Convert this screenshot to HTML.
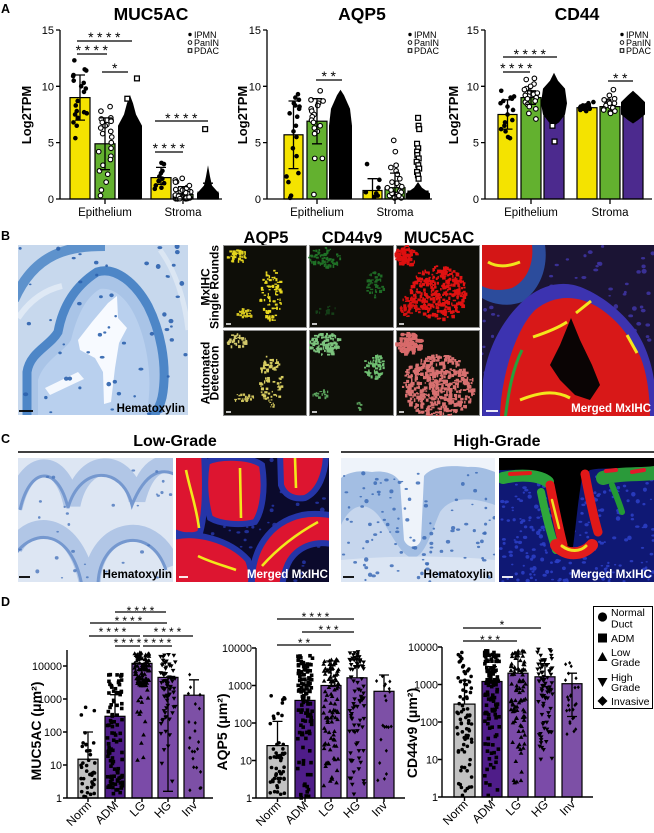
<!DOCTYPE html>
<html><head><meta charset="utf-8">
<style>
html,body{margin:0;padding:0;background:#fff;width:654px;height:833px;overflow:hidden}
svg{display:block}
text{font-family:"Liberation Sans",Arial,sans-serif}
</style></head><body>
<svg id="s" xmlns="http://www.w3.org/2000/svg" width="654" height="833" viewBox="0 0 654 833">
<defs>
 <clipPath id="k1"><rect x="18" y="245" width="170" height="170"/></clipPath>
 <clipPath id="k2"><rect x="482" y="245" width="172" height="171"/></clipPath>
 <clipPath id="k3"><rect x="18" y="458" width="155" height="124"/></clipPath>
 <clipPath id="k4"><rect x="176" y="458" width="153" height="124"/></clipPath>
 <clipPath id="k5"><rect x="341" y="458" width="154" height="124"/></clipPath>
 <clipPath id="k6"><rect x="499" y="458" width="155" height="124"/></clipPath>
 <clipPath id="kf"><rect x="223" y="245" width="257" height="171"/></clipPath>
</defs>
<rect width="654" height="833" fill="#fff"/>

<!-- panel letters -->
<g font-weight="bold" font-size="12.5">
<text x="1" y="13">A</text><text x="1" y="240">B</text><text x="1" y="443">C</text><text x="1" y="606">D</text>
</g>

<!-- ============ PANEL A ============ -->
<g font-weight="bold" font-size="17.5" text-anchor="middle">
<text x="151" y="20">MUC5AC</text><text x="362" y="20">AQP5</text><text x="577" y="20">CD44</text>
</g>
<g font-weight="bold" font-size="13" text-anchor="middle">
<text transform="translate(31,115) rotate(-90)">Log2TPM</text>
<text transform="translate(247,115) rotate(-90)">Log2TPM</text>
<text transform="translate(458,115) rotate(-90)">Log2TPM</text>
</g>
<g font-size="11" text-anchor="end">
<text x="54" y="34">15</text><text x="54" y="90.3">10</text><text x="54" y="146.6">5</text><text x="54" y="203">0</text>
<text x="261" y="34">15</text><text x="261" y="90.3">10</text><text x="261" y="146.6">5</text><text x="261" y="203">0</text>
<text x="479" y="34">15</text><text x="479" y="90.3">10</text><text x="479" y="146.6">5</text><text x="479" y="203">0</text>
</g>
<g font-size="11.5" text-anchor="middle">
<text x="105" y="216">Epithelium</text><text x="183" y="216">Stroma</text>
<text x="317" y="216">Epithelium</text><text x="395" y="216">Stroma</text>
<text x="531" y="216">Epithelium</text><text x="610" y="216">Stroma</text>
</g>
<!-- legends A -->
<g font-size="9">
<circle cx="190" cy="34.5" r="1.7"/><text x="194" y="37.8">IPMN</text>
<circle cx="190" cy="42.5" r="1.8" fill="#fff" stroke="#000" stroke-width="0.9"/><text x="194" y="45.8">PanIN</text>
<rect x="188.2" y="48.7" width="3.6" height="3.6" fill="#fff" stroke="#000" stroke-width="1"/><text x="194" y="53.8">PDAC</text>
<circle cx="410" cy="34.5" r="1.7"/><text x="414" y="37.8">IPMN</text>
<circle cx="410" cy="42.5" r="1.8" fill="#fff" stroke="#000" stroke-width="0.9"/><text x="414" y="45.8">PanIN</text>
<rect x="408.2" y="48.7" width="3.6" height="3.6" fill="#fff" stroke="#000" stroke-width="1"/><text x="414" y="53.8">PDAC</text>
<circle cx="622" cy="34.5" r="1.7"/><text x="626" y="37.8">IPMN</text>
<circle cx="622" cy="42.5" r="1.8" fill="#fff" stroke="#000" stroke-width="0.9"/><text x="626" y="45.8">PanIN</text>
<rect x="620.2" y="48.7" width="3.6" height="3.6" fill="#fff" stroke="#000" stroke-width="1"/><text x="626" y="53.8">PDAC</text>
</g>
<!-- bars A -->
<g stroke="#000" stroke-width="1.2">
<rect x="70" y="97.6" width="20" height="101.4" fill="#f4e300"/>
<rect x="95" y="143.8" width="20" height="55.2" fill="#63b12f"/>
<rect x="120" y="159.6" width="20" height="39.4" fill="#4c2a8e"/>
<rect x="151" y="177.6" width="20" height="21.4" fill="#f4e300"/>
<rect x="173" y="194.5" width="20" height="4.5" fill="#63b12f"/>
<rect x="198" y="192.2" width="20" height="6.8" fill="#4c2a8e"/>

<rect x="284" y="134.8" width="19" height="64.2" fill="#f4e300"/>
<rect x="307" y="121.2" width="20" height="77.8" fill="#63b12f"/>
<rect x="331" y="141.5" width="19" height="57.5" fill="#4c2a8e"/>
<rect x="363" y="190.5" width="19" height="8.5" fill="#f4e300"/>
<rect x="385" y="187.7" width="20" height="11.3" fill="#63b12f"/>
<rect x="408" y="191.1" width="20" height="7.9" fill="#4c2a8e"/>

<rect x="498" y="114.5" width="19" height="84.5" fill="#f4e300"/>
<rect x="521" y="97.6" width="20" height="101.4" fill="#63b12f"/>
<rect x="544" y="97.6" width="20" height="101.4" fill="#4c2a8e"/>
<rect x="577" y="107.7" width="20" height="91.3" fill="#f4e300"/>
<rect x="600" y="106.6" width="20" height="92.4" fill="#63b12f"/>
<rect x="623" y="108.8" width="20" height="90.2" fill="#4c2a8e"/>
</g>
<!-- black dense PDAC masses -->
<g fill="#000">
<polygon points="130,95.3 133,103.2 136,114.5 142,125.7 142,199 118,199 118,125.7 124,114.5 127,103.2"/>
<polygon points="208,165.2 210,176.5 212,185.5 219,193.4 219,199 197,199 197,193.4 204,185.5 206,176.5"/>
<polygon points="340.5,89.7 344,95.3 350,108.8 352,125.7 352,199 329,199 329,125.7 331,108.8 337,95.3"/>
<polygon points="418,182 422,187.7 430,193.4 430,199 406,199 406,193.4 414,187.7"/>
<polygon points="554,72.8 558,80.7 565,88.6 567,103.2 565,114.5 559,122.4 554,125.7 549,122.4 543,114.5 541,103.2 543,88.6 550,80.7"/>
<polygon points="633,90.8 638,95.3 645,102.1 645,114.5 638,120.1 633,123.5 628,120.1 621,114.5 621,102.1 628,95.3"/>
</g>
<g id="dA"></g>
<!-- error bars A -->
<g stroke="#000" stroke-width="1.3" fill="none">
<path d="M80,120.1V75M75,75H85M75,120.1H85"/>
<path d="M105,169.7V117.9M100,117.9H110M100,169.7H110"/>
<path d="M161,184.3V167.4M156,167.4H166M156,184.3H166"/>
<path d="M183,199V186.6M178,186.6H188"/>
<path d="M208,199V183.2M203,183.2H213"/>
<path d="M293.5,168.6V101M288.5,101H298.5M288.5,168.6H298.5"/>
<path d="M317,143.8V98.7M312,98.7H322M312,143.8H322"/>
<path d="M372.5,199V178.7M367.5,178.7H377.5"/>
<path d="M395,199V173.1M390,173.1H400"/>
<path d="M507.5,129.1V99.8M502.5,99.8H512.5M502.5,129.1H512.5"/>
<path d="M531,104.3V90.8M526,90.8H536M526,104.3H536"/>
</g>
<!-- axes A -->
<g stroke="#000" stroke-width="1.3" fill="none">
<path d="M60,30V199H222M56,30H60M56,86.3H60M56,142.6H60M56,199H60M105,199V204M183,199V204"/>
<path d="M267,30V199H432M263,30H267M263,86.3H267M263,142.6H267M263,199H267M317,199V204M395,199V204"/>
<path d="M485,30V199H652M481,30H485M481,86.3H485M481,142.6H485M481,199H485M531,199V204M610,199V204"/>
<!-- significance lines -->
<path d="M77,41H132M77,54H107M102,72H128M155,121H208M155,152H183"/>
<path d="M316,80H342"/>
<path d="M503,57H557M503,72H530M608,81H633"/>
</g>
<g font-size="14" text-anchor="middle" letter-spacing="3.5">
<text x="106" y="42">****</text><text x="93.5" y="55">****</text><text x="116.5" y="73">*</text>
<text x="183" y="123">****</text><text x="170.5" y="153">****</text>
<text x="330.5" y="81">**</text>
<text x="531.5" y="59">****</text><text x="518" y="73">****</text><text x="622" y="83">**</text>
</g>

<!-- ============ PANEL B ============ -->
<g clip-path="url(#k1)">
<rect x="18" y="245" width="170" height="170" fill="#c7d8ed"/>
<path d="M14,300 C35,252 70,246 105,246" stroke="#5e92cc" stroke-width="10" fill="none"/>
<path d="M18,318 C30,300 45,290 62,286" stroke="#dfe9f5" stroke-width="6" fill="none"/>
<path d="M160,250 C175,270 185,300 188,330" stroke="#dbe6f3" stroke-width="5" fill="none"/>
<path d="M27,420 L27,372 C30,352 50,346 58,332 C62,310 72,288 97,272 C116,266 136,284 148,306 C160,330 167,362 163,392 C161,408 152,420 146,420 Z" fill="#a9c4e7" stroke="#4d86c7" stroke-width="9"/>
<path d="M38,420 L38,380 C44,360 64,352 71,340 C77,316 85,298 100,289 C115,287 128,300 136,318 C146,340 151,370 149,395 L147,420 Z" fill="#b9d0ee"/>
<path d="M78,340 L92,322 L108,303 L117,296 L118,318 L127,328 L119,343 L115,368 L111,402 L104,404 L103,372 L95,358 L80,350 Z" fill="#f7faff"/>
<path d="M45,388 L78,372 L84,379 L50,395 Z" fill="#f4f8fe"/>
<g id="nBh"></g>
</g>
<text x="185" y="412" font-size="11.5" font-weight="bold" text-anchor="end">Hematoxylin</text>
<path d="M19,411H33" stroke="#000" stroke-width="1.8"/>

<g font-weight="bold" font-size="16.5" text-anchor="middle">
<text x="266" y="243">AQP5</text><text x="352" y="243">CD44v9</text><text x="439" y="243">MUC5AC</text>
</g>
<g font-weight="bold" font-size="12" text-anchor="middle">
<text transform="translate(209.5,287) rotate(-90)">MxIHC</text>
<text transform="translate(218.5,287) rotate(-90)">Single Rounds</text>
<text transform="translate(209.5,373) rotate(-90)">Automated</text>
<text transform="translate(218.5,373) rotate(-90)">Detection</text>
</g>
<g fill="#0e0e08" stroke="#8c8c8c" stroke-width="1">
<rect x="223.5" y="245.5" width="83" height="82"/><rect x="309.5" y="245.5" width="84" height="82"/><rect x="396.5" y="245.5" width="83" height="82"/>
<rect x="223.5" y="330.5" width="83" height="85"/><rect x="309.5" y="330.5" width="84" height="85"/><rect x="396.5" y="330.5" width="83" height="85"/>
</g>
<g clip-path="url(#kf)"><g id="fB"></g></g>
<g stroke="#fff" stroke-width="1.5">
<path d="M226,324h5M312,324h5M399,324h5M226,412h5M312,412h5M399,412h5"/>
</g>

<g clip-path="url(#k2)">
<rect x="482" y="245" width="172" height="171" fill="#1b1434"/>
<g id="nBm"></g>
<path d="M482,245 H545 C548,265 542,288 522,302 C505,308 490,303 482,298 Z" fill="#2c4c9c"/>
<path d="M482,245 H532 C534,262 528,280 512,288 C498,292 488,289 482,286 Z" fill="#d41616"/>
<path d="M488,262 C498,268 510,266 520,262" stroke="#f2e21c" stroke-width="3" fill="none"/>
<path d="M482,420 L483,380 C488,345 505,315 529,296 C545,284 565,280 583,288 C602,296 620,310 634,328 C646,345 652,365 654,380 V420 Z" fill="#3c33b0"/>
<path d="M500,420 C500,380 515,330 535,310 C552,296 572,295 590,303 C610,312 628,332 640,356 C648,375 650,400 650,420 Z" fill="#d81818"/>
<path d="M505,420 C508,395 512,370 522,350" stroke="#28a03c" stroke-width="3" fill="none"/>
<path d="M571,318 L580,340 L592,365 L600,385 L590,400 L575,395 L560,380 L550,365 L560,345 Z" fill="#0a0404"/>
<g stroke="#f4e61c" fill="none" stroke-width="3">
<path d="M533,337 C545,333 558,328 567,322"/><path d="M576,313 L591,301"/><path d="M627,335 L637,353"/><path d="M520,400 C540,392 555,390 570,398"/>
</g>
</g>
<text x="651" y="412" font-size="11.5" font-weight="bold" text-anchor="end" fill="#fff">Merged MxIHC</text>
<path d="M486,411H498" stroke="#fff" stroke-width="1.8"/>

<!-- ============ PANEL C ============ -->
<g font-weight="bold" font-size="16" text-anchor="middle">
<text x="175" y="446">Low-Grade</text><text x="497" y="446">High-Grade</text>
</g>
<path d="M18,452H329M341,452H654" stroke="#000" stroke-width="1.6"/>

<g clip-path="url(#k3)">
<rect x="18" y="458" width="155" height="124" fill="#dde6f3"/>
<g fill="none" stroke="#b1c6e6" stroke-width="17">
<path d="M14,508 C26,455 62,455 72,505 C82,455 126,455 137,500 C147,462 166,460 178,468"/>
<path d="M14,548 C32,516 76,520 88,586"/><path d="M92,586 C92,528 152,513 172,566"/>
</g>
<g fill="none" stroke="#7598cf" stroke-width="3">
<path d="M20,510 C30,465 58,465 68,508 C80,465 122,465 132,505 C146,470 163,468 176,475"/>
<path d="M14,556 C34,526 72,530 82,586"/><path d="M98,586 C98,536 150,522 166,570"/>
</g>
<g id="nLGh"></g>
</g>
<text x="172" y="578" font-size="11.7" font-weight="bold" text-anchor="end">Hematoxylin</text>
<path d="M19,577H30" stroke="#000" stroke-width="1.8"/>

<g clip-path="url(#k4)">
<rect x="176" y="458" width="153" height="124" fill="#0b0a2c"/>
<g id="nLGm"></g>
<g fill="#dd1530" stroke="#2535a8" stroke-width="6">
<path d="M170,452 H204 C206,490 205,515 200,533 C190,538 180,535 170,530 Z"/>
<path d="M207,462 C220,456 250,456 262,465 C266,490 262,512 255,522 C240,526 220,524 210,518 C205,500 204,480 207,462 Z"/>
<path d="M280,452 H326 C326,475 318,492 305,498 C292,500 284,494 281,485 Z"/>
<path d="M252,588 C250,550 270,522 302,515 C318,512 335,516 335,516 V545 C318,540 300,545 290,560 C285,568 283,578 282,588 Z"/>
<path d="M170,538 C195,530 230,540 248,560 C252,570 252,580 250,588 H170 Z"/>
</g>
<g fill="none" stroke="#f2e81a" stroke-width="2.6">
<path d="M186,470 C190,490 196,505 199,528"/><path d="M240,468 L241,518"/><path d="M295,458 L296,488"/>
<path d="M262,566 C278,548 298,533 318,522"/><path d="M198,556 C210,562 225,566 236,570"/>
</g>
</g>
<text x="328" y="578" font-size="11.7" font-weight="bold" text-anchor="end" fill="#fff">Merged MxIHC</text>
<path d="M179,577H188" stroke="#fff" stroke-width="1.8"/>

<g clip-path="url(#k5)">
<rect x="341" y="458" width="154" height="124" fill="#eef3fa"/>
<path d="M341,582 V478 C348,472 360,470 372,472 C385,470 396,474 400,482 L404,540 C408,549 418,549 421,540 L424,476 C432,466 450,465 468,467 C480,466 490,470 495,472 V582 Z" fill="#a3bee3"/>
<path d="M341,582 V525 C350,505 365,500 378,515 C390,530 400,555 412,558 C425,558 432,530 440,512 C452,495 475,498 495,505 V582 Z" fill="#c6d6ed"/>
<path d="M341,582 V560 C380,556 450,555 495,560 V582 Z" fill="#dbe5f3"/>
<g id="nHGh"></g>
</g>
<text x="493" y="578" font-size="11.7" font-weight="bold" text-anchor="end">Hematoxylin</text>
<path d="M343,577H354" stroke="#000" stroke-width="1.8"/>

<g clip-path="url(#k6)">
<rect x="499" y="458" width="155" height="124" fill="#0f1874"/>
<g id="nHGm"></g>
<path d="M499,458 H654 V468 C630,472 610,466 590,470 L582,478 C578,500 576,525 573,547 C568,549 566,549 564,547 C560,520 556,495 551,478 C540,468 520,470 499,470 Z" fill="#000"/>
<g fill="none" stroke-linecap="round">
<path d="M503,478 C520,474 540,475 548,482" stroke="#2aa23a" stroke-width="12"/>
<path d="M510,474 L530,473" stroke="#e21a1a" stroke-width="4"/>
<path d="M541,492 C545,512 550,532 556,550" stroke="#2fa83a" stroke-width="8"/>
<path d="M550,485 C554,505 558,525 563,545" stroke="#e01818" stroke-width="9"/>
<path d="M556,545 C565,556 582,556 592,545" stroke="#e41c1c" stroke-width="12"/>
<path d="M562,546 C570,552 580,552 586,546" stroke="#f0e020" stroke-width="3"/>
<path d="M552,500 L559,528" stroke="#f0e020" stroke-width="2.5"/>
<path d="M585,474 C589,495 593,515 598,532" stroke="#e01818" stroke-width="9"/>
<path d="M603,478 C620,473 640,475 654,473" stroke="#2a9a3a" stroke-width="14"/>
<path d="M606,471 L616,470 M632,472 L644,470" stroke="#e21a2a" stroke-width="4"/>
<path d="M612,485 C616,495 620,505 622,512" stroke="#239a35" stroke-width="6"/>
</g>
</g>
<text x="652" y="578" font-size="11.7" font-weight="bold" text-anchor="end" fill="#fff">Merged MxIHC</text>
<path d="M502,577H513" stroke="#fff" stroke-width="1.8"/>

<!-- ============ PANEL D ============ -->
<g font-weight="bold" font-size="14" text-anchor="middle">
<text transform="translate(41,731) rotate(-90)">MUC5AC (μm²)</text>
<text transform="translate(227,732) rotate(-90)">AQP5 (μm²)</text>
<text transform="translate(417,733) rotate(-90)">CD44v9 (μm²)</text>
</g>
<g font-size="10.8" text-anchor="end">
<text x="62" y="669.8">10000</text><text x="62" y="702.8">1000</text><text x="62" y="735.8">100</text><text x="62" y="768.8">10</text><text x="62" y="801.8">1</text>
<text x="252" y="651.8">10000</text><text x="252" y="689.3">1000</text><text x="252" y="726.8">100</text><text x="252" y="764.3">10</text><text x="252" y="801.8">1</text>
<text x="438" y="650.8">10000</text><text x="438" y="688.3">1000</text><text x="438" y="725.8">100</text><text x="438" y="763.3">10</text><text x="438" y="800.8">1</text>
</g>
<g font-size="12" text-anchor="end">
<text transform="translate(92,806) rotate(-45)">Norm</text><text transform="translate(119,806) rotate(-45)">ADM</text><text transform="translate(146,806) rotate(-45)">LG</text><text transform="translate(172,806) rotate(-45)">HG</text><text transform="translate(198,806) rotate(-45)">Inv</text>
<text transform="translate(281.5,806) rotate(-45)">Norm</text><text transform="translate(309,806) rotate(-45)">ADM</text><text transform="translate(335,806) rotate(-45)">LG</text><text transform="translate(361,806) rotate(-45)">HG</text><text transform="translate(388,806) rotate(-45)">Inv</text>
<text transform="translate(468.5,805) rotate(-45)">Norm</text><text transform="translate(496,805) rotate(-45)">ADM</text><text transform="translate(522,805) rotate(-45)">LG</text><text transform="translate(549,805) rotate(-45)">HG</text><text transform="translate(576,805) rotate(-45)">Inv</text>
</g>
<g stroke="#000" stroke-width="1.2">
<rect x="78" y="759.2" width="20" height="38.8" fill="#c2c2c2"/>
<rect x="105" y="716.3" width="20" height="81.7" fill="#4f1d89"/>
<rect x="132" y="663.4" width="20" height="134.6" fill="#7b4ba8"/>
<rect x="158" y="677.4" width="20" height="120.6" fill="#7b4ba8"/>
<rect x="184" y="695.2" width="20" height="102.8" fill="#7d50a6"/>
<rect x="267" y="745.6" width="21" height="52.4" fill="#c2c2c2"/>
<rect x="295" y="700.4" width="20" height="97.6" fill="#4f1d89"/>
<rect x="321" y="685.5" width="20" height="112.5" fill="#7b4ba8"/>
<rect x="347" y="677.8" width="20" height="120.2" fill="#7b4ba8"/>
<rect x="374" y="691.3" width="20" height="106.7" fill="#7d50a6"/>
<rect x="454" y="704.1" width="21" height="92.9" fill="#c2c2c2"/>
<rect x="482" y="681.5" width="20" height="115.5" fill="#4f1d89"/>
<rect x="508" y="673.2" width="20" height="123.8" fill="#7b4ba8"/>
<rect x="535" y="676.8" width="20" height="120.2" fill="#7b4ba8"/>
<rect x="562" y="683.7" width="20" height="113.3" fill="#7d50a6"/>
</g>
<g id="dD" fill="#000"></g>
<g stroke="#000" stroke-width="1.3" fill="none">
<path d="M88,759V732M83,732H93"/><path d="M115,716V694.7M110,694.7H120"/><path d="M142,663.4V684M137,684H147"/><path d="M168,677.4V791.3M163,791.3H173"/><path d="M194,695V679.8M189,679.8H199"/>
<path d="M277.5,745.6V721.4M272.5,721.4H282.5"/><path d="M305,700.4V680M300,680H310"/><path d="M331,685.5V661M326,661H336"/><path d="M357,677.8V660M352,660H362"/><path d="M384,691.3V675M379,675H389"/>
<path d="M464.5,704V680.2M459.5,680.2H469.5"/><path d="M492,681.5V666.6M487,666.6H497"/><path d="M518,673.2V654M513,654H523"/><path d="M545,676.8V663.6M540,663.6H550"/><path d="M572,673.2V716.5M567,673.2H577M567,716.5H577"/>
</g>
<g stroke="#000" stroke-width="1.4" fill="none">
<path d="M67,650V798H213M63,666H67M63,699H67M63,732H67M63,765H67M63,798H67M88,798v4M115,798v4M142,798v4M168,798v4M194,798v4"/>
<path d="M256,648V798H405M252,648H256M252,685.5H256M252,723H256M252,760.5H256M252,798H256M277.5,798v4M305,798v4M331,798v4M357,798v4M384,798v4"/>
<path d="M442,647V797H593M438,647H442M438,684.5H442M438,722H442M438,759.5H442M438,797H442M464.5,797v4M492,797v4M518,797v4M545,797v4M572,797v4"/>
</g>
<g stroke="#000" stroke-width="1.2">
<path d="M115,612H166M90,623H167M89,636H140M143,636H193M115,646H140M143,646H172"/>
<path d="M277,619H354M302,632H354M277,645H331"/>
<path d="M463,628H541M463,641H517"/>
</g>
<g font-size="12" text-anchor="middle" letter-spacing="3">
<text x="142" y="615">****</text><text x="130" y="625">****</text><text x="114" y="636">****</text><text x="169" y="636">****</text><text x="129" y="647">****</text><text x="159" y="647">****</text>
<text x="317" y="621">****</text><text x="330" y="634">***</text><text x="305.5" y="647">**</text>
<text x="503.5" y="629">*</text><text x="491.5" y="644">***</text>
</g>
<!-- legend D -->
<rect x="593.5" y="606.5" width="59" height="102" fill="#fff" stroke="#000" stroke-width="1"/>
<circle cx="602.5" cy="617" r="4.6"/>
<rect x="598" y="633.5" width="9" height="9"/>
<path d="M602.5,652 L607.5,661 H597.5 Z"/>
<path d="M602.5,687 L607.5,678 H597.5 Z"/>
<path d="M602.5,696 L607.5,701 L602.5,706 L597.5,701 Z"/>
<g font-size="10.5">
<text x="611" y="615.8">Normal</text><text x="611" y="627.5">Duct</text>
<text x="611" y="641.8">ADM</text>
<text x="611" y="655.8">Low</text><text x="611" y="665.8">Grade</text>
<text x="611" y="680.8">High</text><text x="611" y="690.8">Grade</text>
<text x="611" y="704.8">Invasive</text>
</g>
</svg>
<script>
(function(){
var NS='http://www.w3.org/2000/svg';var seed=12345;
function rnd(){seed=(seed*16807)%2147483647;return (seed-1)/2147483646;}
function el(p,t,a){var e=document.createElementNS(NS,t);for(var k in a)e.setAttribute(k,a[k]);p.appendChild(e);return e;}
function $(i){return document.getElementById(i);}
/* Panel A dots */
var gA=$('dA');
function yA(v){return 199-11.27*v;}
function pts(cx,vals,type,jw){jw=jw||7;for(var i=0;i<vals.length;i++){var x=cx+(rnd()*2-1)*jw,y=yA(vals[i]);
 if(type=='c')el(gA,'circle',{cx:x,cy:y,r:2.3,fill:'#000'});
 else if(type=='o')el(gA,'circle',{cx:x,cy:y,r:2.3,fill:'#fff',stroke:'#000','stroke-width':1.1});
 else el(gA,'rect',{x:x-2.4,y:y-2.4,width:4.8,height:4.8,fill:'#fff',stroke:'#000','stroke-width':1.3});}}
function rv(n,a,b,p){var r=[];for(var i=0;i<n;i++)r.push(a+(b-a)*Math.pow(rnd(),p||1));return r;}
pts(80,[12.3,11.5,11.4,11.0,10.9,10.5,10.3,10.0,9.8,9.5,8.7,8.3,7.8,7.7,7.6,7.5,7.2,6.8,6.5,5.4],'c');
pts(105,[8.2,7.8,7.2,7.1,7.0,6.9,6.8,6.6,6.5,6.3,6.0,5.8,5.5,5.0,4.5,4.2,3.8,3.5,3.0,2.5,2.2,1.5,0.8,0.3],'o');
pts(130,[10.7,8.9],'s',0);
pts(161,[3.2,3.1,2.5,2.3,2.0,1.8,1.6,1.4,1.2,1.0,0.9],'c');
pts(183,rv(40,0,1.9,2),'o',8);
pts(208,[6.2],'s',0);
pts(293.5,[9.3,9.0,8.8,8.5,8.3,8.2,8.0,7.6,7.3,6.5,6.0,5.5,4.5,3.8,2.3,2.0,1.5,0.3,0.1],'c');
pts(317,[9.6,8.8,8.7,8.5,8.3,8.0,7.8,7.5,7.3,7.0,6.8,6.5,6.3,6.0,5.8,3.6,3.6,0.4],'o');
pts(372.5,[3.1,1.7,1.0,0.6,0.5,0.3,0.2],'c');
pts(395,[5.2,4.2,3.0,2.8,2.5,2.2,1.8,1.5,1.2,1.0,0.9,0.7,0.6,0.5,0.4,0.3,0.2,0.1,0.1,0.3,0.5,0.8,1.1,1.4],'o',8);
pts(418,[7.2,6.5,6.2,4.9,4.5,4.2,3.9,3.6,3.3,3.0,2.7,2.4,2.1,1.8],'s',1.5);
pts(507.5,[9.6,9.1,9.0,8.9,8.7,8.5,8.2,7.9,7.5,7.0,6.8,6.5,6.2,6.0,5.5,5.4],'c');
pts(531,[10.7,10.6,10.2,10.0,9.8,9.5,9.3,9.2,9.0,8.8,8.6,8.4,8.2,8.0,7.6,7.1,9.7,9.4,8.9,8.7],'o');
pts(554,[6.5,5.1],'s',0);
pts(587,[8.6,8.5,8.4,8.3,8.3,8.2,8.2,8.1,8.1,8.0,8.0,7.9,7.9,7.8],'c');
pts(610,[9.7,9.2,8.9,8.7,8.6,8.5,8.4,8.3,8.2,8.1,8.0,7.9,7.8,7.7,7.6,8.8,8.5],'o');
/* Panel D */
var gD=$('dD');
function mk(t,x,y){
 if(t=='C')el(gD,'circle',{cx:x,cy:y,r:1.8});
 else if(t=='S')el(gD,'rect',{x:x-1.8,y:y-1.8,width:3.6,height:3.6});
 else if(t=='T')el(gD,'path',{d:'M'+x+','+(y-2.3)+'l2.3,4h-4.6z'});
 else if(t=='V')el(gD,'path',{d:'M'+x+','+(y+2.3)+'l2.3,-4h-4.6z'});
 else el(gD,'path',{d:'M'+x+','+(y-2)+'l1.6,2l-1.6,2l-1.6,-2z'});}
function grp(cx,base,k,segs,t){segs.forEach(function(s){for(var i=0;i<s[2];i++){var lv=s[0]+rnd()*(s[1]-s[0]);mk(t,cx+(rnd()*2-1)*7.5,base-k*lv);}});}
grp(88,798,33,[[0,1,25],[1,2,12],[2,2.9,3]],'C');
grp(115,798,33,[[0.1,1,35],[1,2,25],[2,3,20],[3,3.8,22]],'S');
grp(142,798,33,[[3.4,4.45,95],[1.2,3.4,12],[0.5,1.2,1]],'T');
grp(168,798,33,[[3,4.35,55],[2,3,15],[0.3,2,6]],'V');
grp(194,798,33,[[0.1,4.3,22]],'D');
grp(277.5,798,37.5,[[0.1,1.2,40],[1.2,2.8,15]],'C');
grp(305,798,37.5,[[0,2,30],[2,3,40],[3,3.8,45]],'S');
grp(331,798,37.5,[[0.3,2,30],[2,3,30],[3,3.7,40]],'T');
grp(357,798,37.5,[[0.1,2,25],[2,3.4,30],[3.4,3.9,30]],'V');
grp(384,798,37.5,[[0.4,3.7,20]],'D');
grp(464.5,797,37.5,[[0,1,15],[1,2.2,30],[2.2,3.9,35]],'C');
grp(492,797,37.5,[[0,2,25],[2,3,35],[3,3.9,60]],'S');
grp(518,797,37.5,[[0.3,2,20],[2,3,40],[3,3.95,40]],'T');
grp(545,797,37.5,[[1,2.5,25],[2.5,3.95,55]],'V');
grp(572,797,37.5,[[1.6,3.6,25]],'D');
/* textures */
function nuc(g,x0,y0,w,h,n,col,r1,r2,op){for(var i=0;i<n;i++){var rx=r1+rnd()*(r2-r1);el(g,'ellipse',{cx:x0+rnd()*w,cy:y0+rnd()*h,rx:rx,ry:rx*(0.55+rnd()*0.5),fill:col,opacity:op||1});}}
function spk(g,cx,cy,rx,ry,n,col,s){for(var i=0;i<n;i++){var a=rnd()*6.283,r=Math.sqrt(rnd());el(g,'rect',{x:cx+Math.cos(a)*r*rx,y:cy+Math.sin(a)*r*ry,width:s*(0.5+rnd()),height:s*(0.5+rnd()),fill:col});}}
nuc($('nBh'),18,245,170,170,55,'#2c62ad',1.2,2.6,0.9);
var f=$('fB');
spk(f,236,255,10,7,35,'#e3d41e',2.2);spk(f,270,294,11,26,70,'#e8d820',2.2);spk(f,243,312,10,4,22,'#d8c820',2);spk(f,271,319,3,3,6,'#e0d020',2);
spk(f,236,340,10,7,35,'#d2c86a',2.2);spk(f,270,379,11,26,70,'#d6cc60',2.2);spk(f,243,397,10,4,22,'#cfc45e',2);spk(f,271,404,3,3,6,'#cfc45e',2);
spk(f,324,257,16,10,70,'#1f7026',2.2);spk(f,374,284,9,13,40,'#1e6a25',2.2);spk(f,326,310,13,5,15,'#153f18',2);
spk(f,324,343,16,11,110,'#7cc47e',2.3);spk(f,373,366,10,13,70,'#6fbf72',2.2);spk(f,320,393,8,5,20,'#5aa05c',2);spk(f,357,405,4,4,6,'#5aa05c',2);
spk(f,405,255,11,10,90,'#dd1010',2.6);spk(f,437,292,28,27,330,'#e01212',2.6);spk(f,408,306,9,11,50,'#d81010',2.4);
spk(f,408,342,13,11,120,'#d86a6a',2.7);spk(f,437,385,36,31,430,'#d87070',2.7);
nuc($('nBm'),482,245,172,171,160,'#3e33a0',1.3,2.6,0.9);
nuc($('nLGh'),18,458,155,124,30,'#4a76bb',1,2,0.8);
nuc($('nLGm'),176,458,153,124,120,'#2433a0',1.2,2.4,0.9);
nuc($('nHGh'),341,470,154,112,110,'#3d6cb6',1.1,2.3,0.85);
nuc($('nHGm'),499,458,155,124,260,'#2b3ec4',1.1,2.3,0.9);
})();
</script>
</body></html>
